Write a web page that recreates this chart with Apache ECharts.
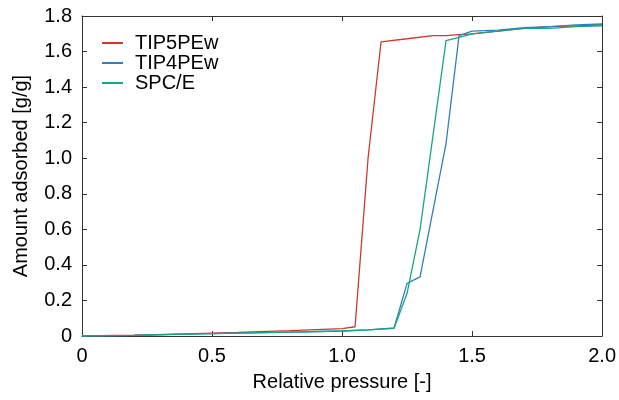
<!DOCTYPE html>
<html>
<head>
<meta charset="utf-8">
<script src="https://cdn.jsdelivr.net/npm/echarts@6/dist/echarts.min.js"></script>
<style>
  html, body { margin: 0; padding: 0; background: #fff; }
  #chart { width: 619px; height: 400px; }
</style>
</head>
<body>
<div id="chart"></div>
<script>
// isotherm data [relative pressure, amount adsorbed]
const tip5pew = [
  [0, 0], [0.2, 0.005], [0.4, 0.012], [0.6, 0.02], [0.8, 0.03], [1.0, 0.042],
  [1.05, 0.052], [1.1, 1.0], [1.15, 1.655], [1.25, 1.672], [1.35, 1.69],
  [1.4, 1.69], [1.45, 1.695], [1.5, 1.7], [1.6, 1.715], [1.7, 1.73],
  [1.8, 1.74], [1.9, 1.745], [2.0, 1.75]
];
const tip4pew = [
  [0, 0], [0.2, 0.004], [0.4, 0.01], [0.6, 0.016], [0.8, 0.022], [1.0, 0.028],
  [1.1, 0.035], [1.2, 0.045], [1.25, 0.296], [1.3, 0.333], [1.4, 1.084],
  [1.45, 1.69], [1.5, 1.715], [1.6, 1.72], [1.7, 1.735], [1.8, 1.74],
  [1.9, 1.75], [2.0, 1.755]
];
const spce = [
  [0, 0], [0.2, 0.004], [0.4, 0.01], [0.6, 0.016], [0.8, 0.022], [1.0, 0.028],
  [1.1, 0.034], [1.2, 0.043], [1.25, 0.24], [1.3, 0.6], [1.4, 1.661],
  [1.45, 1.68], [1.5, 1.7], [1.6, 1.715], [1.7, 1.73], [1.8, 1.73],
  [1.9, 1.74], [2.0, 1.745]
];
const names = ["TIP5PEw", "TIP4PEw", "SPC/E"];
const colors = ["#cc3a2b", "#2e7fc3", "#17a683"];

const font = "Liberation Sans, Arial, sans-serif";
const fmt = (v) => (v === 0 ? "0" : v.toFixed(1));

const chart = echarts.init(document.getElementById("chart"));
const boxAxis = {
  axisLine: { show: true, onZero: false, lineStyle: { color: "#333", width: 1 } },
  axisTick: { show: true, inside: true, length: 5, lineStyle: { color: "#333" } },
  splitLine: { show: false },
};
chart.setOption({
  animation: false,
  color: colors,
  grid: { left: 82, right: 16, top: 16, bottom: 64 },
  legend: {
    orient: "vertical",
    left: 102,
    top: 33,
    padding: 0,
    itemWidth: 21,
    itemHeight: 2,
    itemGap: 0,
    icon: "rect",
    data: names,
    textStyle: { fontFamily: font, fontSize: 20, lineHeight: 19, color: "#000", padding: [0, 0, 0, 7] },
  },
  xAxis: [
    {
      type: "value", min: 0, max: 2, interval: 0.5,
      name: "Relative pressure [-]", nameLocation: "middle", nameGap: 36,
      nameTextStyle: { fontFamily: font, fontSize: 20, color: "#000" },
      axisLabel: { fontFamily: font, fontSize: 20, color: "#000", margin: 10, formatter: fmt },
      ...boxAxis,
    },
    {
      type: "value", position: "top", min: 0, max: 2, interval: 0.5,
      axisLabel: { show: false }, ...boxAxis,
    },
  ],
  yAxis: [
    {
      type: "value", min: 0, max: 1.8, interval: 0.2,
      name: "Amount adsorbed [g/g]", nameLocation: "middle", nameGap: 51,
      nameTextStyle: { fontFamily: font, fontSize: 20, color: "#000" },
      axisLabel: { fontFamily: font, fontSize: 20, color: "#000", margin: 10, formatter: fmt },
      ...boxAxis,
    },
    {
      type: "value", position: "right", min: 0, max: 1.8, interval: 0.2,
      axisLabel: { show: false }, ...boxAxis,
    },
  ],
  series: [tip5pew, tip4pew, spce].map((d, i) => ({
    name: names[i],
    type: "line",
    data: d,
    showSymbol: false,
    lineStyle: { width: 1.3, color: colors[i] },
    itemStyle: { color: colors[i] },
  })),
});
</script>
</body>
</html>
